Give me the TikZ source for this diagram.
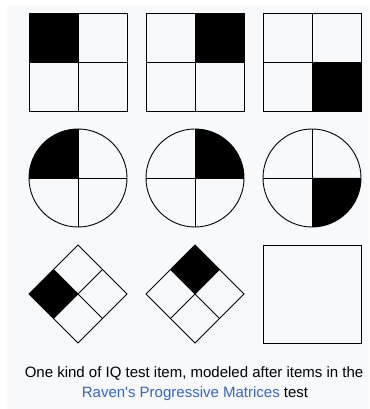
\documentclass[tikz,border=0pt]{standalone}
\usepackage{fontspec}
\setmainfont{Liberation Sans}
\usetikzlibrary{calc}
\definecolor{pagebg}{HTML}{F8F9FA}
\definecolor{linkblue}{HTML}{3366CC}

\begin{document}
\begin{tikzpicture}[x=1pt,y=1pt,
  edge/.style={draw=black,line width=0.9pt},
  shade/.style={fill=black},
  caption/.style={font=\fontsize{15}{18}\selectfont,inner sep=0pt,anchor=base}]
\useasboundingbox (0,0) rectangle (369,409);
\fill[white] (0,0) rectangle (369,409);
\fill[pagebg] (7,0) rectangle (369,403);

% top row: squares
\foreach \cx/\a in {78/90, 195/0, 312/270} {
  \coordinate (c) at (\cx,347);
  \fill[shade] (c) rectangle ++(\a+45:69.3);
  \draw[edge] ($(c)+(-49,-49)$) rectangle ($(c)+(49,49)$);
  \draw[edge] (\cx,298) -- (\cx,396) (\cx-49,347) -- (\cx+49,347);
}

% middle row: circles
\foreach \cx/\a in {78/90, 195/0, 312/270} {
  \coordinate (c) at (\cx,231);
  \fill[shade] (c) -- ++(\a:49) arc[start angle=\a,end angle=\a+90,radius=49] -- cycle;
  \draw[edge] (c) circle[radius=49];
  \draw[edge] (\cx,182) -- (\cx,280) (\cx-49,231) -- (\cx+49,231);
}

% bottom row: diamonds
\foreach \cx/\a in {78/180, 195/90} {
  \coordinate (c) at (\cx,115);
  \fill[shade] (c) -- ++(\a-45:34.65) -- ($(c)+(\a:49)$) -- ($(c)+(\a+45:34.65)$) -- cycle;
  \draw[edge] (\cx-49,115) -- (\cx,164) -- (\cx+49,115) -- (\cx,66) -- cycle;
  \draw[edge] ($(c)+(135:34.65)$) -- ($(c)+(315:34.65)$)
              ($(c)+(45:34.65)$) -- ($(c)+(225:34.65)$);
}
\draw[edge] (263,66) rectangle (361,164);

\node[caption] (line1) at (194,31) {One kind of IQ test item, modeled after items in the};
\node[caption] (line2) at (195,12) {\textcolor{linkblue}{Raven\textquotesingle s Progressive Matrices} test};
\end{tikzpicture}
\end{document}
